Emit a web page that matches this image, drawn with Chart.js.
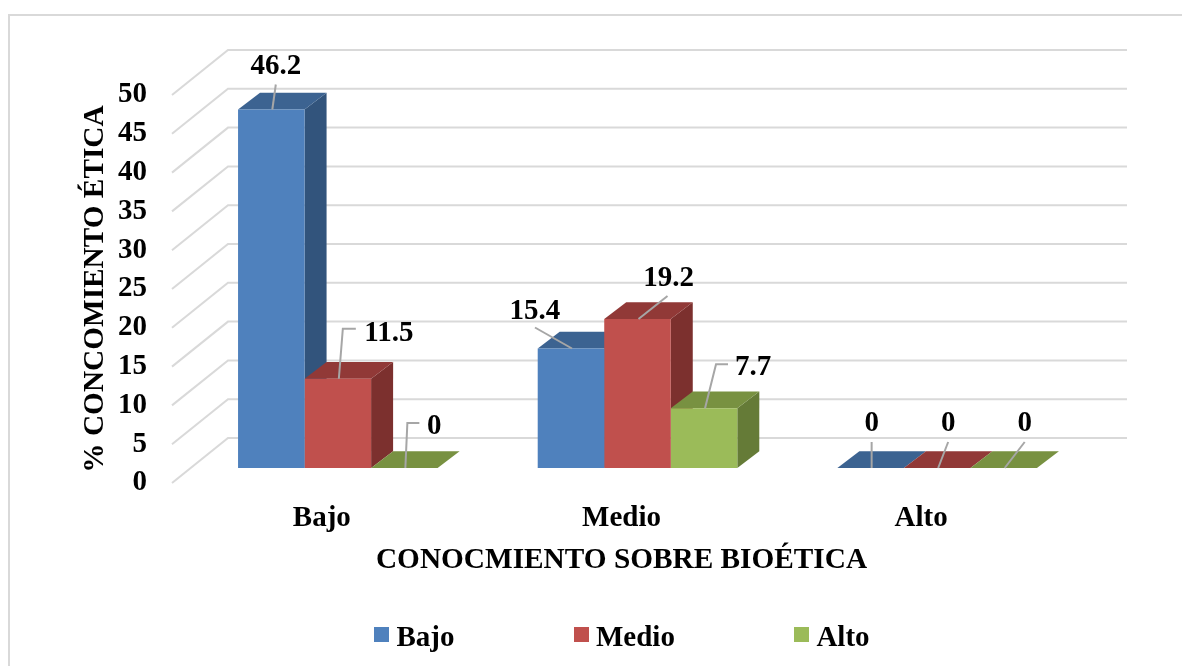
<!DOCTYPE html>
<html>
<head>
<meta charset="utf-8">
<script src="https://cdn.jsdelivr.net/npm/chart.js@4/dist/chart.umd.min.js"></script>
<style>html,body{margin:0;padding:0;background:#fff}canvas{display:block}</style>
</head>
<body>
<canvas id="c" width="1182" height="666"></canvas>
<script>
const categories = ['Bajo', 'Medio', 'Alto'];
const seriesNames = ['Bajo', 'Medio', 'Alto'];
const bajoValues = [46.2, 15.4, 0];
const medioValues = [11.5, 19.2, 0];
const altoValues = [0, 7.7, 0];
const yTicks = [0, 5, 10, 15, 20, 25, 30, 35, 40, 45, 50];
const xAxisTitle = 'CONOCMIENTO SOBRE BIOÉTICA';
const yAxisTitle = '% CONCOMIENTO ÉTICA';

const FONT = '"Liberation Serif", "Times New Roman", serif';
const FS = 29;
const LEGEND_PAD = 126;
const faceColors = ['#4f81bd', '#c0504d', '#9bbb59'];
const topColors = ['#3c6391', '#913937', '#789141'];
const sideColors = ['#32547c', '#7c302e', '#657b37'];
const GRID = '#d9d9d9', LEADER = '#a6a6a6';
// projection: wall depth and the shift of the bar plane from the axis plane
const WALL = {dx: 56, dy: -45}, PLANE = {dx: 16, dy: -15}, BAR = {dx: 22, dy: -16.7};
// leader lines relative to the front top centre of each bar; last entry places the label
const leaders = [
  [[[3.5,-25], [3.5,-43]], [[4,-50], [17,-50], [50,-45]], [[2,-45], [14,-45], [29,-41]]],
  [[[-37,-21], [-37,-37]], [[29,-23], [30,-40]], [[11,-44], [23,-44], [48,-41]]],
  [[[0,-26], [0,-44]], [[10,-26], [10,-44]], [[20,-26], [20,-44]]]
];

const legendIcon = c => {
  const k = document.createElement('canvas');
  k.width = 15; k.height = 24;
  const x = k.getContext('2d');
  x.fillStyle = c; x.fillRect(0, 0, 15, 15);
  return k;
};

const depthPlugin = {
  id: 'depth',
  beforeLayout(chart) {
    const l = chart.legend;
    if (!l._fixed) {
      const fit = l.fit;
      l.fit = function () { fit.call(this); this.height = 84; };
      l._fixed = true;
    }
  },
  afterLayout(chart) {
    const l = chart.legend;
    l.left = 381 - LEGEND_PAD; l.right = 1182;
    l.top = 639 - FS / 2 - LEGEND_PAD;
  },
  beforeDraw(chart) {
    const c = chart.ctx;
    c.save();
    c.fillStyle = '#fff'; c.fillRect(0, 0, 1182, 666);
    c.strokeStyle = GRID; c.lineWidth = 2;
    c.strokeRect(9, 15, 1200, 700);
    c.restore();
  },
  beforeDatasetsDraw(chart) {
    const c = chart.ctx, y = chart.scales.y, a = chart.chartArea;
    c.save();
    c.strokeStyle = GRID; c.lineWidth = 2;
    y.ticks.forEach(t => {
      const py = y.getPixelForValue(t.value);
      c.beginPath();
      c.moveTo(a.left, py);
      c.lineTo(a.left + WALL.dx, py + WALL.dy);
      c.lineTo(a.right + WALL.dx, py + WALL.dy);
      c.stroke();
    });
    c.translate(PLANE.dx, PLANE.dy);
    chart.data.datasets.forEach((ds, i) => {
      chart.getDatasetMeta(i).data.forEach(el => {
        const l = el.x - el.width / 2, r = el.x + el.width / 2, t = el.y, b = el.base;
        c.fillStyle = sideColors[i];
        c.beginPath();
        c.moveTo(r, t); c.lineTo(r + BAR.dx, t + BAR.dy); c.lineTo(r + BAR.dx, b + BAR.dy); c.lineTo(r, b);
        c.closePath(); c.fill();
        c.fillStyle = topColors[i];
        c.beginPath();
        c.moveTo(l, t); c.lineTo(l + BAR.dx, t + BAR.dy); c.lineTo(r + BAR.dx, t + BAR.dy); c.lineTo(r, t);
        c.closePath(); c.fill();
      });
    });
    c.restore();
  },
  beforeDatasetDraw(chart) {
    const c = chart.ctx;
    c.save();
    c.translate(PLANE.dx, PLANE.dy);
  },
  afterDatasetDraw(chart) { chart.ctx.restore(); },
  afterDatasetsDraw(chart) {
    const c = chart.ctx;
    chart.data.datasets.forEach((ds, i) => {
      chart.getDatasetMeta(i).data.forEach((el, j) => {
        const ax = el.x + PLANE.dx + 1, ay = el.y + PLANE.dy;
        const pts = leaders[j][i];
        const lab = pts[pts.length - 1];
        c.save();
        c.strokeStyle = LEADER; c.lineWidth = 2;
        c.beginPath();
        c.moveTo(ax, ay);
        pts.slice(0, -1).forEach(p => c.lineTo(ax + p[0], ay + p[1]));
        c.stroke();
        c.fillStyle = '#000';
        c.font = `bold ${FS}px ${FONT}`;
        c.textAlign = 'center'; c.textBaseline = 'middle';
        c.fillText(String(ds.data[j]), ax + lab[0], ay + lab[1]);
        c.restore();
      });
    });
  }
};

const series = [bajoValues, medioValues, altoValues];
new Chart(document.getElementById('c'), {
  type: 'bar',
  data: {
    labels: categories,
    datasets: series.map((d, i) => ({
      label: seriesNames[i],
      data: d,
      backgroundColor: faceColors[i],
      categoryPercentage: 0.666,
      barPercentage: 1,
      clip: false
    }))
  },
  options: {
    responsive: false,
    animation: false,
    layout: {padding: {left: 0, right: 111, top: 95, bottom: 0}},
    plugins: {
      tooltip: {enabled: false},
      legend: {
        position: 'bottom',
        align: 'start',
        labels: {
          usePointStyle: true,
          boxWidth: 1, boxHeight: 15, pointStyleWidth: 1,
          padding: LEGEND_PAD,
          color: '#000',
          font: {family: FONT, size: FS, weight: 'bold'},
          generateLabels(chart) {
            return Chart.defaults.plugins.legend.labels.generateLabels(chart).map((it, i) => {
              it.pointStyle = legendIcon(faceColors[i]);
              return it;
            });
          }
        }
      }
    },
    scales: {
      x: {
        grid: {display: false, drawTicks: false},
        border: {display: false},
        ticks: {color: '#000', padding: 18, maxRotation: 0, font: {family: FONT, size: FS, weight: 'bold'}},
        title: {display: true, text: xAxisTitle, color: '#000', padding: {top: 0, bottom: 4}, font: {family: FONT, size: 29.3, weight: 'bold'}},
        afterFit(s) { s.height = 99; }
      },
      y: {
        min: 0, max: 50,
        grid: {display: false, drawTicks: false},
        border: {display: false},
        afterBuildTicks(s) { s.ticks = yTicks.map(v => ({value: v})); },
        ticks: {color: '#000', padding: 25, autoSkip: false, font: {family: FONT, size: FS, weight: 'bold'}},
        title: {display: true, text: yAxisTitle, color: '#000', padding: {top: 78, bottom: 0}, font: {family: FONT, size: 29.3, weight: 'bold'}},
        afterFit(s) { s.width = 172; }
      }
    }
  },
  plugins: [depthPlugin]
});
</script>
</body>
</html>
